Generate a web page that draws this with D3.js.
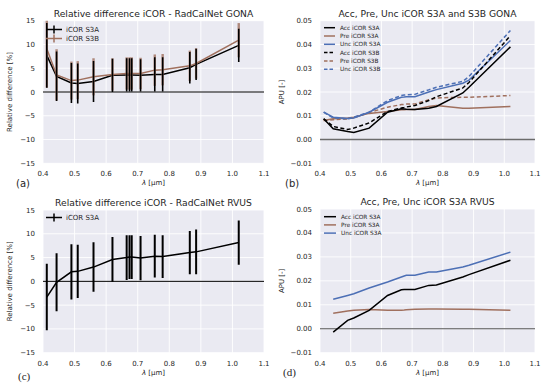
<!DOCTYPE html>
<html>
<head>
<meta charset="utf-8">
<script src="https://cdn.jsdelivr.net/npm/d3@7"></script>
<style>
  body { margin: 0; background: #fff; }
  text { font-family: "DejaVu Sans", sans-serif; fill: #262626; }
</style>
</head>
<body>
<div id="chart"></div>
<script>
// band centres (µm)
const wavelengths = [0.412, 0.443, 0.49, 0.51, 0.56, 0.62, 0.665, 0.674, 0.681, 0.709, 0.754, 0.779, 0.865, 0.885, 1.02];

// (a) GONA relative difference [%]
const gonaS3A = [7.7, 3.3, 1.9, 1.8, 2.2, 3.5, 3.6, 3.6, 3.6, 3.5, 3.7, 3.7, 5.1, 5.8, 9.8];
const gonaS3AErr = [6.8, 5.2, 4.2, 4.2, 4.3, 3.5, 3.5, 3.5, 3.5, 3.4, 3.6, 3.6, 3.3, 3.3, 3.5];
const gonaS3B = [9.1, 3.6, 2.4, 2.5, 3.2, 3.7, 3.9, 3.9, 3.9, 3.9, 4.6, 4.7, 5.5, 6.0, 10.9];
const gonaS3BErr = [8.2, 5.4, 4.0, 4.0, 3.9, 3.4, 3.4, 3.4, 3.4, 3.3, 3.3, 3.3, 3.2, 3.2, 3.6];

// (b) GONA APU
const gonaAccS3A = [0.0087, 0.0045, 0.0034, 0.0030, 0.0048, 0.0115, 0.0129, 0.0128, 0.0127, 0.0126, 0.0132, 0.0139, 0.0196, 0.0220, 0.0390];
const gonaPreS3A = [0.0080, 0.0087, 0.0091, 0.0094, 0.0110, 0.0118, 0.0125, 0.0125, 0.0126, 0.0126, 0.0139, 0.0143, 0.0132, 0.0132, 0.0139];
const gonaUncS3A = [0.0115, 0.0094, 0.0088, 0.0091, 0.0115, 0.0157, 0.0178, 0.0179, 0.0180, 0.0180, 0.0200, 0.0210, 0.0237, 0.0250, 0.0417];
const gonaAccS3B = [0.0087, 0.0055, 0.0042, 0.0048, 0.0070, 0.0118, 0.0133, 0.0135, 0.0137, 0.0143, 0.0164, 0.0180, 0.0217, 0.0240, 0.0437];
const gonaPreS3B = [0.0080, 0.0083, 0.0087, 0.0091, 0.0114, 0.0136, 0.0147, 0.0148, 0.0149, 0.0150, 0.0167, 0.0175, 0.0178, 0.0178, 0.0185];
const gonaUncS3B = [0.0115, 0.0091, 0.0087, 0.0094, 0.0115, 0.0164, 0.0185, 0.0187, 0.0188, 0.0190, 0.0209, 0.0220, 0.0245, 0.0265, 0.0459];

// (c) RVUS relative difference [%]
const rvusS3A = [-3.3, -0.2, 2.0, 2.1, 3.0, 4.6, 5.0, 5.1, 5.1, 4.9, 5.3, 5.2, 6.05, 6.2, 8.15];
const rvusS3AErr = [7.0, 6.1, 5.8, 5.6, 5.2, 4.7, 4.7, 4.6, 4.6, 4.65, 4.5, 4.5, 4.55, 4.7, 4.65];

// (d) RVUS APU (no 412 nm band)
const rvusWavelengths = wavelengths.slice(1);
const rvusAccS3A = [-0.0014, 0.0035, 0.0045, 0.0077, 0.0139, 0.0163, 0.0164, 0.0164, 0.0164, 0.0181, 0.0183, 0.0216, 0.0226, 0.0286];
const rvusPreS3A = [0.0065, 0.0074, 0.0077, 0.0080, 0.0077, 0.0077, 0.0078, 0.0079, 0.0081, 0.0082, 0.0082, 0.0081, 0.0081, 0.0077];
const rvusUncS3A = [0.0123, 0.0139, 0.0146, 0.0170, 0.0195, 0.0216, 0.0220, 0.0223, 0.0223, 0.0237, 0.0237, 0.0258, 0.0265, 0.0320];

const xTicks = [0.4, 0.5, 0.6, 0.7, 0.8, 0.9, 1.0, 1.1];
const relTicks = [-15, -10, -5, 0, 5, 10, 15];
const apuTicks = [-0.01, 0, 0.01, 0.02, 0.03, 0.04, 0.05];

const black = '#000000', brown = '#a0705e', blue = '#4c6fb5';

const svg = d3.select('#chart').append('svg')
    .attr('width', 550)
    .attr('height', 385);

let clipId = 0;

function panel(opt) {
    const x = d3.scaleLinear().domain([0.4, 1.1]).range([opt.left, opt.right]);
    const y = d3.scaleLinear().domain(opt.yDomain).range([opt.bottom, opt.top]);
    const g = svg.append('g');

    g.append('rect')
        .attr('x', opt.left).attr('y', opt.top)
        .attr('width', opt.right - opt.left).attr('height', opt.bottom - opt.top)
        .attr('fill', '#eaeaf2');

    // grid
    g.selectAll('.vg').data(xTicks).enter().append('line')
        .attr('x1', (d) => x(d)).attr('x2', (d) => x(d))
        .attr('y1', opt.top).attr('y2', opt.bottom)
        .attr('stroke', '#fff').attr('stroke-width', 0.9);
    g.selectAll('.hg').data(opt.yTicks).enter().append('line')
        .attr('x1', opt.left).attr('x2', opt.right)
        .attr('y1', (d) => y(d)).attr('y2', (d) => y(d))
        .attr('stroke', '#fff').attr('stroke-width', 0.9);

    // tick labels
    g.selectAll('.xt').data(xTicks).enter().append('text')
        .attr('x', (d) => x(d)).attr('y', opt.bottom + 13)
        .attr('text-anchor', 'middle').style('font-size', '7px')
        .text((d) => d3.format('.1f')(d));
    g.selectAll('.yt').data(opt.yTicks).enter().append('text')
        .attr('x', opt.left - 8).attr('y', (d) => y(d) + 2.5)
        .attr('text-anchor', 'end').style('font-size', '7px')
        .text((d) => opt.yFormat(d).replace('-', '\u2212'));

    // titles and labels
    g.append('text')
        .attr('x', (opt.left + opt.right) / 2).attr('y', opt.top - 4)
        .attr('text-anchor', 'middle').style('font-size', '9.2px')
        .text(opt.title);
    g.append('text')
        .attr('x', (opt.left + opt.right) / 2).attr('y', opt.bottom + 22)
        .attr('text-anchor', 'middle').style('font-size', '7px')
        .html('<tspan font-style="italic">\u03bb</tspan> [\u03bcm]');
    g.append('text')
        .attr('transform', 'translate(' + opt.ylabelX + ',' + ((opt.top + opt.bottom) / 2) + ') rotate(-90)')
        .attr('text-anchor', 'middle').style('font-size', '7px')
        .text(opt.ylabel);
    g.append('text')
        .attr('x', opt.tagX).attr('y', opt.tagY)
        .style('font-size', opt.tagSerif ? '11px' : '10px')
        .style('font-family', opt.tagSerif ? '"Liberation Serif", serif' : '"DejaVu Sans", sans-serif')
        .text(opt.tag);

    const id = 'clip' + (clipId++);
    g.append('clipPath').attr('id', id).append('rect')
        .attr('x', opt.left).attr('y', opt.top)
        .attr('width', opt.right - opt.left).attr('height', opt.bottom - opt.top);
    const plot = g.append('g').attr('clip-path', 'url(#' + id + ')');

    // zero line
    plot.append('line')
        .attr('x1', opt.left).attr('x2', opt.right)
        .attr('y1', y(0)).attr('y2', y(0))
        .attr('stroke', opt.zeroColor).attr('stroke-width', opt.zeroWidth);

    return {x: x, y: y, g: g, plot: plot};
}

function drawLine(p, xs, ys, color, dash) {
    const line = d3.line().x((d, i) => p.x(xs[i])).y((d) => p.y(d));
    p.plot.append('path')
        .datum(ys)
        .attr('d', line)
        .attr('fill', 'none')
        .attr('stroke', color)
        .attr('stroke-width', 1.5)
        .attr('stroke-dasharray', dash ? '4,2.5' : null);
}

function drawErrorbars(p, xs, ys, errs, color, width, opacity) {
    p.plot.selectAll(null).data(ys).enter().append('line')
        .attr('x1', (d, i) => p.x(xs[i])).attr('x2', (d, i) => p.x(xs[i]))
        .attr('y1', (d, i) => p.y(d - errs[i]))
        .attr('y2', (d, i) => p.y(d + errs[i]))
        .attr('stroke', color).attr('stroke-width', width)
        .attr('opacity', opacity);
}

function legend(p, x0, y0, dy, items, fontSize, w, errbar) {
    items.forEach((it, i) => {
        const yy = y0 + i * dy;
        p.g.append('line')
            .attr('x1', x0).attr('x2', x0 + w).attr('y1', yy).attr('y2', yy)
            .attr('stroke', it.color).attr('stroke-width', 1.5)
            .attr('stroke-dasharray', it.dash ? '3.5,2' : null);
        if (errbar) {
            p.g.append('line')
                .attr('x1', x0 + w / 2).attr('x2', x0 + w / 2).attr('y1', yy - 4).attr('y2', yy + 4)
                .attr('stroke', it.color).attr('stroke-width', 1.5);
        }
        p.g.append('text')
            .attr('x', x0 + w + (errbar ? 4 : 5)).attr('y', yy + fontSize * 0.35)
            .style('font-size', fontSize + 'px')
            .text(it.label);
    });
}

const relFmt = d3.format('d');
const apuFmt = d3.format('.2f');

// (a)
const pa = panel({left: 43, right: 264, top: 20.7, bottom: 163.3, yDomain: [-15, 15], yTicks: relTicks,
    yFormat: relFmt, title: 'Relative difference iCOR - RadCalNet GONA', ylabel: 'Relative difference [%]',
    ylabelX: 12, tag: '(a)', tagX: 16, tagY: 187, zeroColor: '#000', zeroWidth: 1});
drawLine(pa, wavelengths, gonaS3A, black, false);
drawLine(pa, wavelengths, gonaS3B, brown, false);
drawErrorbars(pa, wavelengths, gonaS3B, gonaS3BErr, brown, 2.4, 0.8);
drawErrorbars(pa, wavelengths, gonaS3A, gonaS3AErr, black, 1.6, 1);
legend(pa, 46, 29.5, 9, [{label: 'iCOR S3A', color: black}, {label: 'iCOR S3B', color: brown}], 7, 16, true);

// (b)
const pb = panel({left: 320, right: 535, top: 20.7, bottom: 163.3, yDomain: [-0.01, 0.05], yTicks: apuTicks,
    yFormat: apuFmt, title: 'Acc, Pre, Unc iCOR S3A and S3B GONA', ylabel: 'APU [-]',
    ylabelX: 284, tag: '(b)', tagX: 285, tagY: 187, zeroColor: '#6b6b6b', zeroWidth: 1.5});
drawLine(pb, wavelengths, gonaPreS3A, brown, false);
drawLine(pb, wavelengths, gonaPreS3B, brown, true);
drawLine(pb, wavelengths, gonaUncS3A, blue, false);
drawLine(pb, wavelengths, gonaUncS3B, blue, true);
drawLine(pb, wavelengths, gonaAccS3A, black, false);
drawLine(pb, wavelengths, gonaAccS3B, black, true);
legend(pb, 324, 27.7, 8.3, [
    {label: 'Acc iCOR S3A', color: black}, {label: 'Pre iCOR S3A', color: brown},
    {label: 'Unc iCOR S3A', color: blue}, {label: 'Acc iCOR S3B', color: black, dash: true},
    {label: 'Pre iCOR S3B', color: brown, dash: true}, {label: 'Unc iCOR S3B', color: blue, dash: true}
], 5.8, 11, false);

// (c)
const pc = panel({left: 43, right: 264, top: 210, bottom: 352.7, yDomain: [-15, 15], yTicks: relTicks,
    yFormat: relFmt, title: 'Relative difference iCOR - RadCalNet RVUS', ylabel: 'Relative difference [%]',
    ylabelX: 12, tag: '(c)', tagX: 18, tagY: 380, tagSerif: true, zeroColor: '#000', zeroWidth: 1});
drawLine(pc, wavelengths, rvusS3A, black, false);
drawErrorbars(pc, wavelengths, rvusS3A, rvusS3AErr, black, 2, 1);
legend(pc, 46, 217.5, 9, [{label: 'iCOR S3A', color: black}], 7, 16, true);

// (d)
const pd = panel({left: 320, right: 535, top: 209, bottom: 352.7, yDomain: [-0.01, 0.05], yTicks: apuTicks,
    yFormat: apuFmt, title: 'Acc, Pre, Unc iCOR S3A RVUS', ylabel: 'APU [-]',
    ylabelX: 284, tag: '(d)', tagX: 283, tagY: 376, tagSerif: true, zeroColor: '#555', zeroWidth: 1.2});
drawLine(pd, rvusWavelengths, rvusPreS3A, brown, false);
drawLine(pd, rvusWavelengths, rvusUncS3A, blue, false);
drawLine(pd, rvusWavelengths, rvusAccS3A, black, false);
legend(pd, 324, 216.7, 8.2, [
    {label: 'Acc iCOR S3A', color: black}, {label: 'Pre iCOR S3A', color: brown},
    {label: 'Unc iCOR S3A', color: blue}
], 5.8, 12, false);
</script>
</body>
</html>
